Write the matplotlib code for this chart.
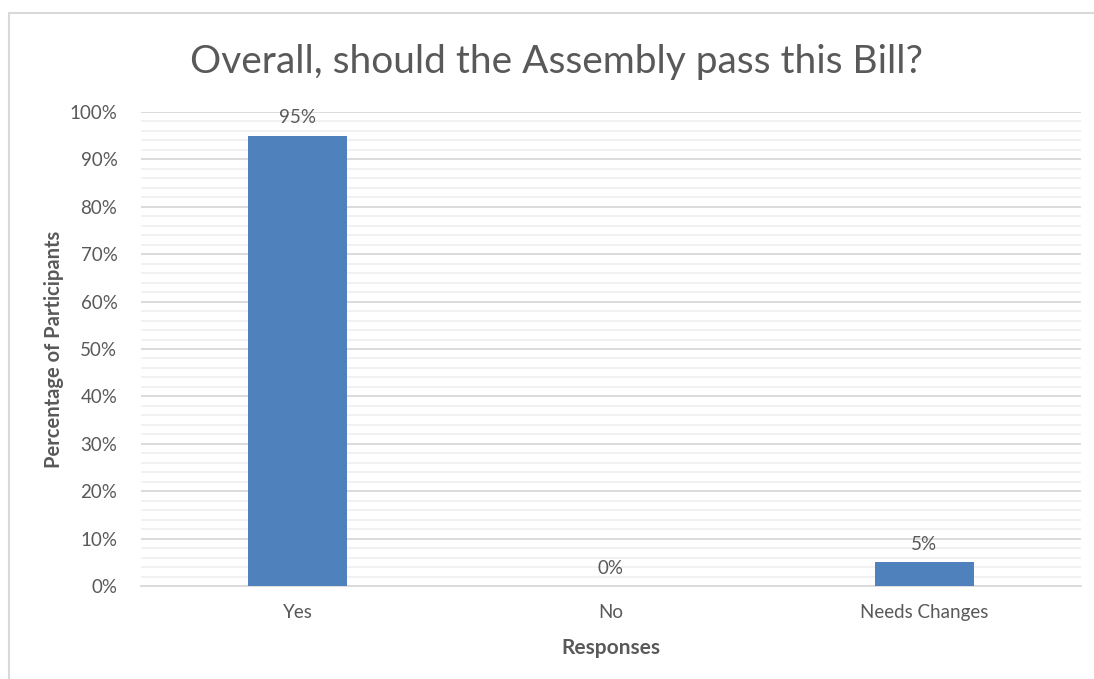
import matplotlib.pyplot as plt
from matplotlib.patches import Rectangle
from matplotlib.ticker import MultipleLocator, FuncFormatter

categories = ["Yes", "No", "Needs Changes"]
values = [95, 0, 5]
title = "Overall, should the Assembly pass this Bill?"
xlabel = "Responses"
ylabel = "Percentage of Participants"

txt = "#595959"
bar_color = "#4f81bd"
plt.rcParams['font.family'] = ['Lato', 'DejaVu Sans']

W, H = 1094, 679
fig = plt.figure(figsize=(W / 100, H / 100), dpi=100)
# plot area in pixel coords
x0, x1, ytop, ybot = 141, 1081, 112, 586
ax = fig.add_axes([x0 / W, 1 - ybot / H, (x1 - x0) / W, (ybot - ytop) / H])

# chart frame (cropped on right and bottom)
fig.patches.append(Rectangle((9 / W, -0.1), 1.2, 1 - 13 / H + 0.1, transform=fig.transFigure,
                             fill=False, edgecolor="#d9d9d9", linewidth=1.5))

xs = range(len(categories))
bars = ax.bar(xs, values, width=0.316, color=bar_color, zorder=3)
for x, v in zip(xs, values):
    ax.text(x, v + 2.0, f"{v}%", ha="center", va="bottom", fontsize=13.5, color=txt)

ax.set_xlim(-0.5, 2.5)
ax.set_ylim(0, 100)
ax.yaxis.set_major_locator(MultipleLocator(10))
ax.yaxis.set_minor_locator(MultipleLocator(2))
ax.yaxis.set_major_formatter(FuncFormatter(lambda v, p: f"{v:.0f}%"))
ax.grid(axis="y", which="major", color="#d9d9d9", linewidth=1.3, zorder=0)
ax.grid(axis="y", which="minor", color="#f0f0f0", linewidth=1.3, zorder=0)
ax.set_axisbelow(True)
ax.set_xticks(list(xs))
ax.set_xticklabels(categories)
ax.tick_params(axis="both", which="both", length=0, labelsize=13.5, colors=txt)
ax.tick_params(axis="x", pad=13)
ax.tick_params(axis="y", pad=17)
for s in ["top", "right", "left"]:
    ax.spines[s].set_visible(False)
ax.spines["bottom"].set_color("#d9d9d9")
ax.spines["bottom"].set_linewidth(1.3)

ax.set_xlabel(xlabel, fontsize=15, fontweight="bold", color=txt, labelpad=12)
ax.set_ylabel(ylabel, fontsize=14.5, fontweight="bold", color=txt)
ax.yaxis.set_label_coords((64 - x0) / (x1 - x0), 0.5)
fig.text(557 / W, 1 - 62 / H, title, ha="center", va="center", fontsize=28, color=txt)

fig.savefig("out.png", dpi=100, facecolor="white")
